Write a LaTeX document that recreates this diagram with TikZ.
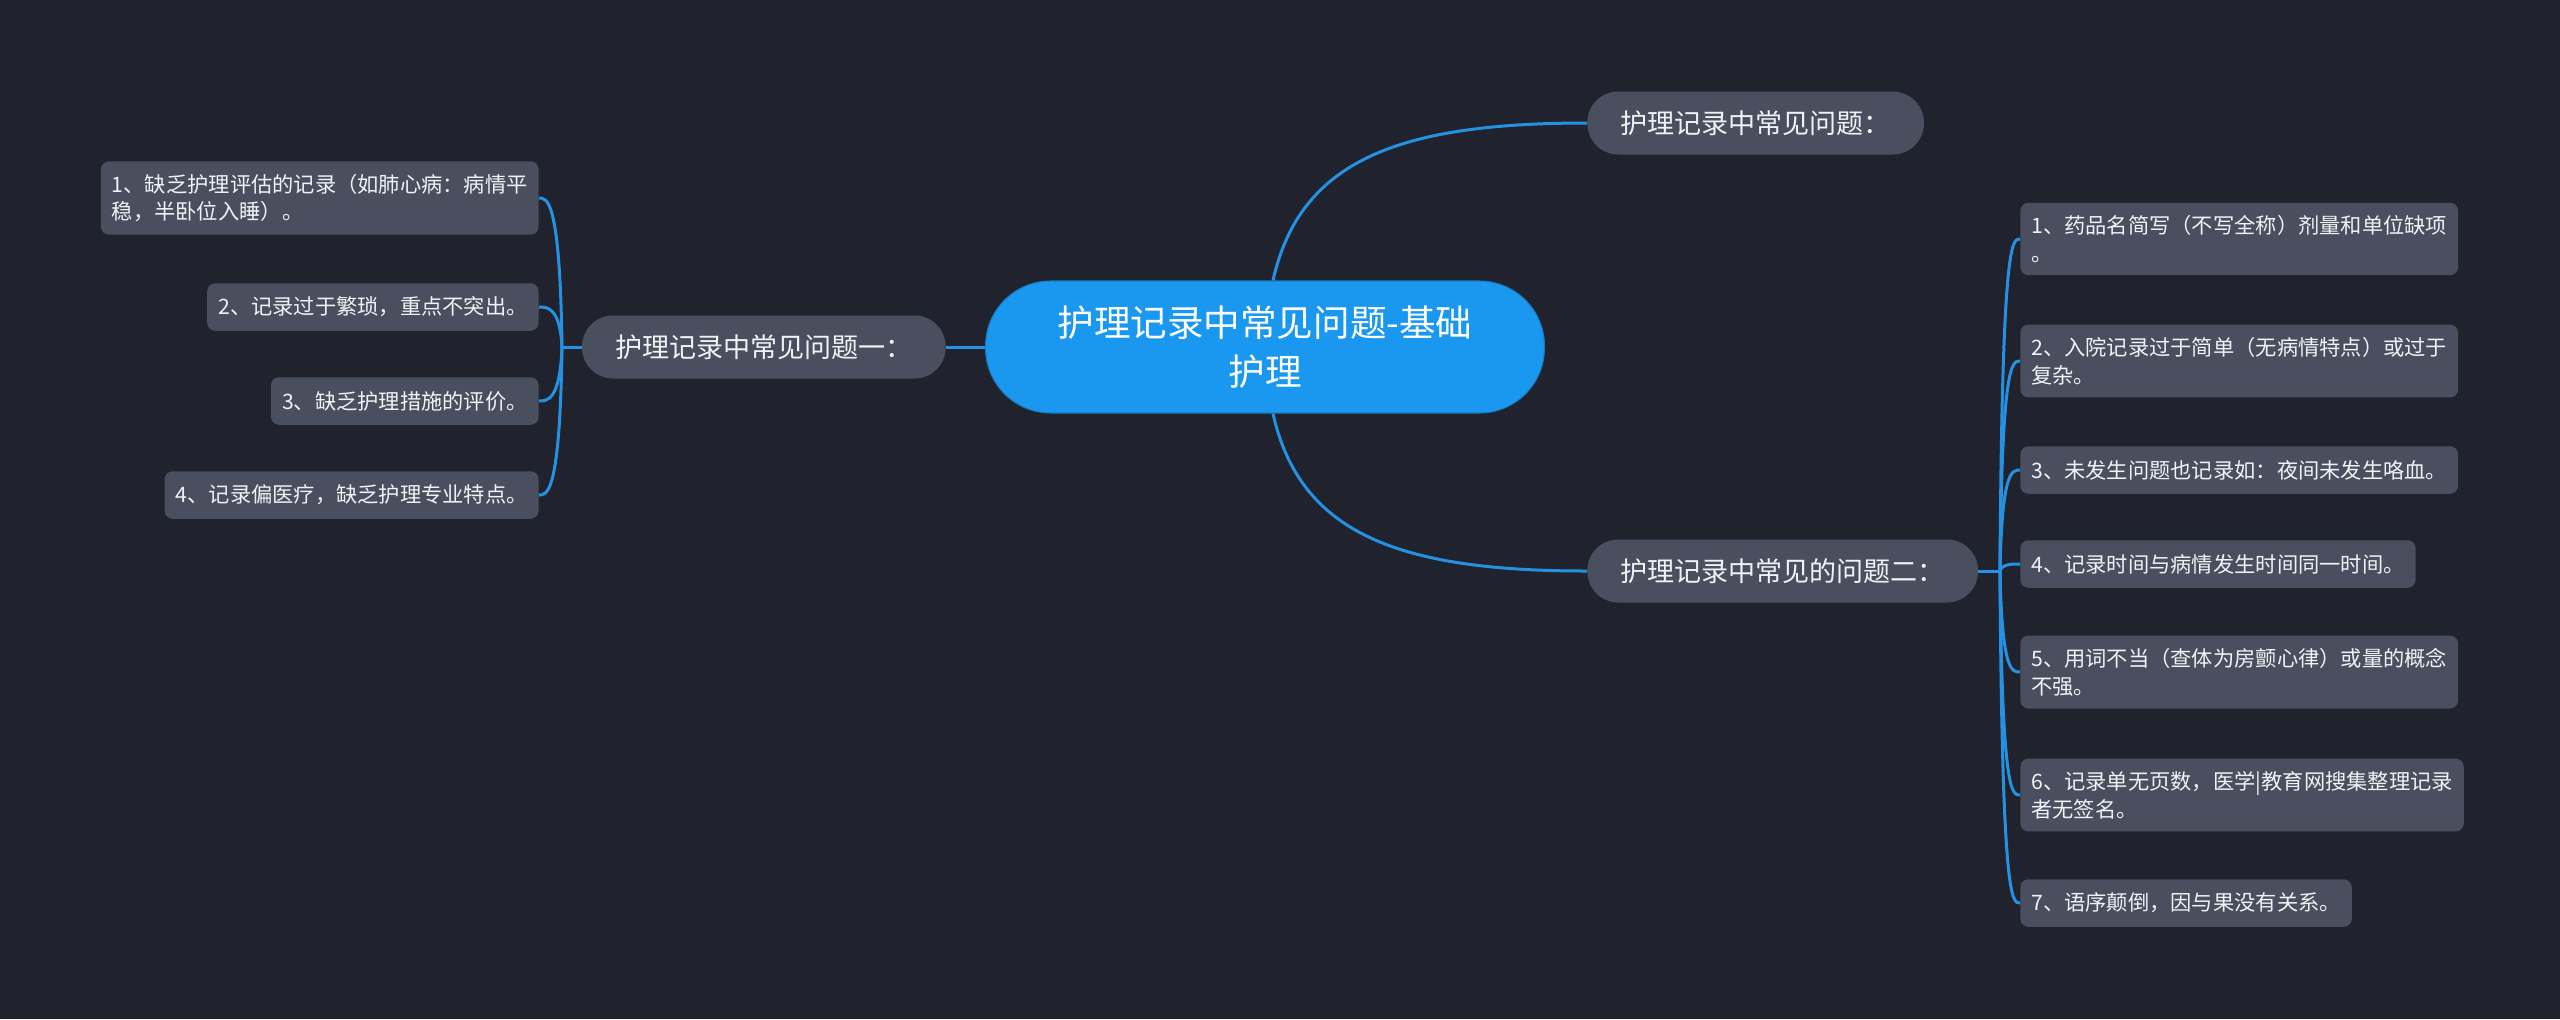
\documentclass[tikz,border=0pt]{standalone}
\usepackage{fontspec}
\setmainfont{Noto Sans CJK SC}
\usepackage{tikz}
\usetikzlibrary{positioning,calc}
\definecolor{mapbg}{RGB}{32,35,45}
\definecolor{mapblue}{RGB}{26,152,240}
\definecolor{mapline}{RGB}{36,145,226}
\definecolor{mapgray}{RGB}{73,79,94}
\definecolor{maptext}{RGB}{240,242,245}

\begin{document}
\begin{tikzpicture}[x=0.02cm, y=-0.02cm,
    root/.style={draw=mapblue!80!black, line width=0.6pt, fill=mapblue, text=white, rounded corners=1.3cm, minimum width=11.18cm, minimum height=2.64cm, align=center, font=\fontsize{20.8pt}{27.9pt}\selectfont},
    topic/.style={fill=mapgray, text=maptext, rounded corners=0.62cm, inner xsep=0.66cm, minimum height=1.26cm, font=\fontsize{15.4pt}{18pt}\selectfont},
    leaf/.style={fill=mapgray, text=maptext, rounded corners=0.16cm, inner xsep=0.22cm, inner ysep=0.25cm, minimum height=0.95cm, align=left, font=\fontsize{12.1pt}{15.9pt}\selectfont},
    link/.style={draw=mapline, line width=0.06cm}]
        \fill[mapbg] (0,0) rectangle (2560,1019);
        \useasboundingbox (0,0) rectangle (2560,1019);

        % centre and main topics
        \node[root] (root) at (1265,347) {护理记录中常见问题-基础\\护理};
        \node[topic, anchor=west] (b0) at (1587,123) {护理记录中常见问题：};
        \node[topic, anchor=east] (b1) at (946,347) {护理记录中常见问题一：};
        \node[topic, anchor=west] (b2) at (1587,571) {护理记录中常见的问题二：};

        % left leaves
        \node[leaf, anchor=east] (l1) at (539,198) {1、缺乏护理评估的记录（如肺心病：病情平\\稳，半卧位入睡）。};
        \node[leaf, anchor=east] (l2) at (539,307) {2、记录过于繁琐，重点不突出。};
        \node[leaf, anchor=east] (l3) at (539,401) {3、缺乏护理措施的评价。};
        \node[leaf, anchor=east] (l4) at (539,495) {4、记录偏医疗，缺乏护理专业特点。};

        % right leaves
        \node[leaf, anchor=west] (r1) at (2020,239) {1、药品名简写（不写全称）剂量和单位缺项\\。};
        \node[leaf, anchor=west] (r2) at (2020,361) {2、入院记录过于简单（无病情特点）或过于\\复杂。};
        \node[leaf, anchor=west] (r3) at (2020,470) {3、未发生问题也记录如：夜间未发生咯血。};
        \node[leaf, anchor=west] (r4) at (2020,564) {4、记录时间与病情发生时间同一时间。};
        \node[leaf, anchor=west] (r5) at (2020,672) {5、用词不当（查体为房颤心律）或量的概念\\不强。};
        \node[leaf, anchor=west] (r6) at (2020,795) {6、记录单无页数，医学|教育网搜集整理记录\\者无签名。};
        \node[leaf, anchor=west] (r7) at (2020,903) {7、语序颠倒，因与果没有关系。};

        \coordinate (lj) at (562,347);
        \coordinate (rj) at (2000,571);

        % connectors
        \draw[link] ($(root.north)+(8,0)$) .. controls ($(root.north)+(35,-121)$) and ($(b0.west)+(-187,0)$) .. (b0.west);
        \draw[link] ($(root.south)+(8,0)$) .. controls ($(root.south)+(35,121)$) and ($(b2.west)+(-187,0)$) .. (b2.west);
        \draw[link] (b1.east) -- (root.west);
        \draw[link] (b1.west) -- (lj);
        \draw[link] (b2.east) -- (rj);
        \foreach \n in {l1,l2,l3,l4}
            \draw[link] (lj) .. controls ($(lj |- \n.east)+(-2,0)$) and ($(\n.east)+(8,0)$) .. (\n.east);
        \foreach \n in {r1,r2,r3,r4,r5,r6,r7}
            \draw[link] (rj) .. controls ($(rj |- \n.west)+(2,0)$) and ($(\n.west)+(-8,0)$) .. (\n.west);
\end{tikzpicture}
\end{document}
